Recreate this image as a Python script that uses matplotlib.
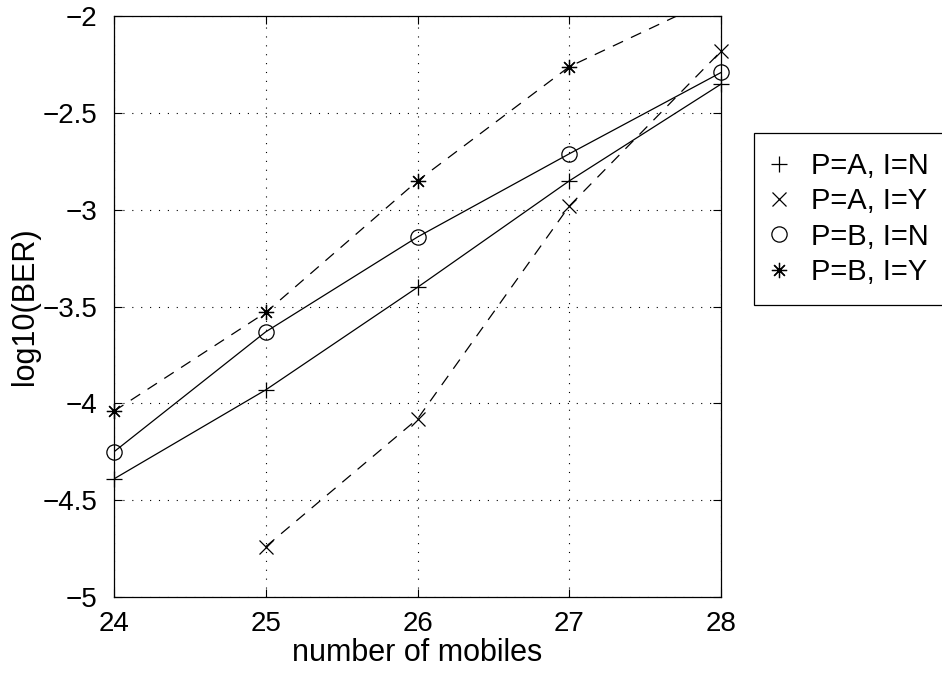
import matplotlib
matplotlib.use("Agg")
import matplotlib.pyplot as plt

plt.rcParams['font.family'] = ['Liberation Sans', 'DejaVu Sans']

# number of mobiles
mobiles = [24, 25, 26, 27, 28]

# log10(BER) for each configuration
ber_a_n = [-4.39, -3.93, -3.40, -2.85, -2.35]
ber_a_y_x = [25, 26, 27, 28]
ber_a_y = [-4.74, -4.08, -2.98, -2.18]
ber_b_n = [-4.25, -3.63, -3.14, -2.71, -2.29]
ber_b_y = [-4.04, -3.53, -2.85, -2.26, -1.89]

labels = ['P=A, I=N', 'P=A, I=Y', 'P=B, I=N', 'P=B, I=Y']

xticks = [24, 25, 26, 27, 28]
yticks = [-5, -4.5, -4, -3.5, -3, -2.5, -2]
ylim = (-5, -2)

fig = plt.figure(figsize=(9.42, 6.73), dpi=100)
ax = fig.add_axes([0.121, 0.113, 0.6445, 0.8627])

lw = 0.9
dash = (0, (9, 7))
series = [
    (mobiles, ber_a_n, '-', '+', 11, labels[0]),
    (ber_a_y_x, ber_a_y, dash, 'x', 10, labels[1]),
    (mobiles, ber_b_n, '-', 'o', 11, labels[2]),
    (mobiles, ber_b_y, dash, (8, 2, 0), 11, labels[3]),
]
handles = []
for xs, ys, ls, mk, ms, lab in series:
    # line is clipped to the axes, markers on the edges stay whole
    ax.plot(xs, ys, color='k', lw=lw, ls=ls)
    keep = [i for i, y in enumerate(ys) if ylim[0] <= y <= ylim[1]]
    ax.plot([xs[i] for i in keep], [ys[i] for i in keep], color='k', ls='none',
            marker=mk, ms=ms, mew=lw, mfc='none', clip_on=False)
    handles.append(plt.Line2D([], [], color='k', ls='none', marker=mk, ms=ms,
                              mew=lw, mfc='none', label=lab))

ax.set_xlim(24, 28)
ax.set_ylim(*ylim)
ax.set_xticks(xticks)
ax.set_yticks(yticks)
ax.set_yticklabels(['\u22125', '\u22124.5', '\u22124', '\u22123.5', '\u22123',
                    '\u22122.5', '\u22122'])
ax.grid(True, color='k', ls=(0, (1, 7)), lw=0.8)
ax.tick_params(direction='in', length=6, width=0.8, top=True, right=True,
               labelsize=20)
ax.tick_params(axis='x', pad=10)
ax.tick_params(axis='y', pad=12)
for s in ax.spines.values():
    s.set_linewidth(0.9)

ax.set_xlabel('number of mobiles', fontsize=22, labelpad=1)
ax.set_ylabel('log10(BER)', fontsize=22, labelpad=2)

leg = fig.legend(handles=handles, loc='upper left',
                 bbox_to_anchor=(0.8004, 0.8024), borderaxespad=0,
                 fancybox=False, edgecolor='k', framealpha=1, fontsize=21,
                 handlelength=0.4, handletextpad=0.9, labelspacing=0.25,
                 borderpad=0.65)
leg.get_frame().set_linewidth(0.9)

fig.savefig('out.png', dpi=100)
